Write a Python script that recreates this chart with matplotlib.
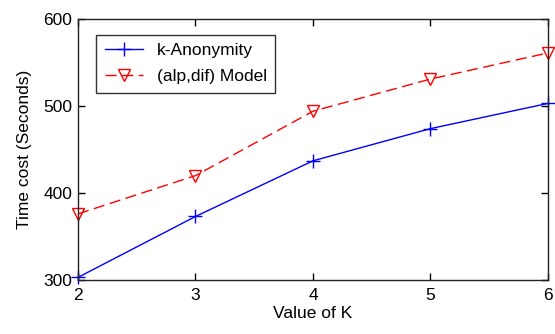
import matplotlib
matplotlib.use("Agg")
import matplotlib.pyplot as plt

k_values = [2, 3, 4, 5, 6]
k_anonymity = [303, 373, 437, 474, 503]
alp_dif_model = [376, 420, 494, 531, 561]
x_ticks = [2, 3, 4, 5, 6]
y_ticks = [300, 400, 500, 600]

plt.rcParams['font.family'] = ['Liberation Sans', 'DejaVu Sans']

fig = plt.figure(figsize=(5.55, 3.34), dpi=100)
ax = fig.add_axes([0.1405, 0.1617, 0.8469, 0.7814])

ax.plot(k_values, k_anonymity, color='blue', linewidth=1.0, marker='+',
        markersize=10, markeredgewidth=1.0, label='k-Anonymity', clip_on=False)
ax.plot(k_values, alp_dif_model, color='red', linewidth=1.0, linestyle=(0, (8, 4)),
        marker='v', markersize=9, markerfacecolor='none', markeredgewidth=1.0,
        label='(alp,dif) Model', clip_on=False)

ax.set_xlim(2, 6)
ax.set_ylim(300, 600)
ax.set_xticks(x_ticks)
ax.set_yticks(y_ticks)
ax.tick_params(direction='in', top=True, right=True, length=5, width=1,
               labelsize=12.5)
ax.tick_params(axis='x', pad=6)
ax.tick_params(axis='y', pad=4)
for s in ax.spines.values():
    s.set_linewidth(1.0)
    s.set_color('#222222')

ax.set_xlabel('Value of K', fontsize=12.5, labelpad=2)
ax.set_ylabel('Time cost (Seconds)', fontsize=12.5, labelpad=8)

leg = ax.legend(loc='upper left', bbox_to_anchor=(0.038, 0.94), fontsize=12.5,
                frameon=True, fancybox=False, edgecolor='black', handlelength=2.2,
                borderpad=0.5, labelspacing=0.6, handletextpad=0.8,
                borderaxespad=0.0)
leg.get_frame().set_linewidth(1.0)

fig.savefig('out.png', dpi=100)
